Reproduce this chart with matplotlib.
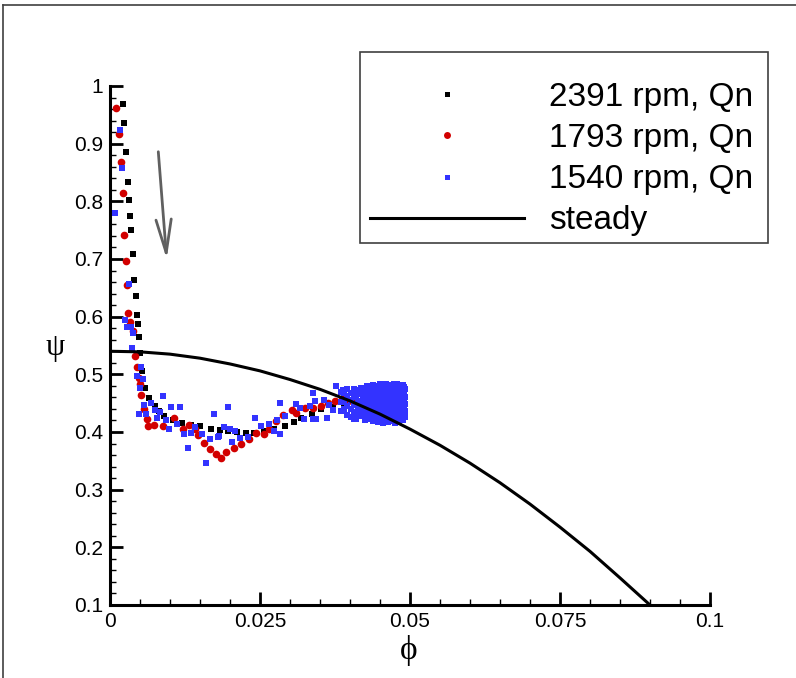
import matplotlib

matplotlib.use("Agg")
import matplotlib.pyplot as plt
from matplotlib.lines import Line2D
from matplotlib.patches import Rectangle

# ---- data ------------------------------------------------------------------
phi_2391 = [0.00211, 0.00233, 0.00267, 0.0030, 0.00317, 0.00333, 0.0035, 0.00383,
            0.0040, 0.00433, 0.0045, 0.00467, 0.00483, 0.0050, 0.00533, 0.00583,
            0.0065, 0.0075, 0.0082, 0.0090, 0.0105, 0.0120, 0.0135, 0.0150,
            0.0168, 0.0183, 0.0196, 0.0211, 0.0226, 0.0240, 0.0257, 0.0274,
            0.0292, 0.0306, 0.0318, 0.0337, 0.0352, 0.0372, 0.0390, 0.0410,
            0.0430, 0.0450]
psi_2391 = [0.969, 0.935, 0.886, 0.834, 0.803, 0.775, 0.750, 0.709,
            0.664, 0.636, 0.603, 0.587, 0.565, 0.537, 0.506, 0.477,
            0.459, 0.445, 0.436, 0.427, 0.420, 0.415, 0.413, 0.411,
            0.405, 0.403, 0.402, 0.400, 0.398, 0.398, 0.401, 0.405,
            0.411, 0.418, 0.424, 0.431, 0.440, 0.444, 0.448, 0.452,
            0.448, 0.446]

phi_1793 = [0.0010, 0.00155, 0.00189, 0.00222, 0.00239, 0.00272, 0.00289, 0.00305,
            0.00333, 0.00378, 0.00422, 0.00444, 0.00478, 0.00506, 0.00522, 0.00572,
            0.00611, 0.0064, 0.0074, 0.0088, 0.0107, 0.0121, 0.0132, 0.0142,
            0.0147, 0.0157, 0.0167, 0.0176, 0.0185, 0.0194, 0.0206, 0.0218,
            0.0231, 0.0244, 0.0256, 0.0265, 0.0277, 0.0289, 0.0304, 0.0310,
            0.0325, 0.0338, 0.0352, 0.0363, 0.0375, 0.0386, 0.0397, 0.0408,
            0.0419, 0.0422, 0.0430]
psi_1793 = [0.961, 0.916, 0.869, 0.814, 0.742, 0.697, 0.655, 0.607,
            0.590, 0.576, 0.531, 0.512, 0.494, 0.483, 0.464, 0.440,
            0.423, 0.410, 0.412, 0.410, 0.425, 0.405, 0.413, 0.405,
            0.394, 0.381, 0.371, 0.361, 0.355, 0.365, 0.373, 0.379,
            0.388, 0.399, 0.397, 0.406, 0.419, 0.429, 0.439, 0.433,
            0.442, 0.441, 0.445, 0.450, 0.454, 0.457, 0.453, 0.450,
            0.444, 0.438, 0.447]

# scattered blue points along the curve
phi_1540 = [0.00167, 0.0020, 0.00078, 0.0031, 0.0025, 0.0029, 0.00345, 0.00383,
            0.00367, 0.00517, 0.00456, 0.00544, 0.0050, 0.00572, 0.00478, 0.0060,
            0.00683, 0.0075, 0.00778, 0.00833, 0.00878, 0.00939, 0.00983, 0.0102,
            0.0117, 0.0112, 0.0123, 0.0135, 0.0142, 0.0130, 0.0154, 0.0160,
            0.0173, 0.0180, 0.0167, 0.0182, 0.0190, 0.0196, 0.0200, 0.0208,
            0.0203, 0.0217, 0.0230, 0.0241, 0.0251, 0.0265, 0.0273, 0.0278,
            0.0284, 0.0283, 0.0291, 0.0310, 0.0317, 0.0323, 0.0334, 0.0339,
            0.0342, 0.0339, 0.0344, 0.0361, 0.0372, 0.0377, 0.0389, 0.0406,
            0.0356, 0.0365]
psi_1540 = [0.924, 0.858, 0.780, 0.657, 0.594, 0.582, 0.582, 0.572,
            0.545, 0.513, 0.497, 0.492, 0.476, 0.447, 0.432, 0.432,
            0.450, 0.438, 0.425, 0.435, 0.462, 0.421, 0.405, 0.444,
            0.444, 0.414, 0.396, 0.398, 0.409, 0.373, 0.397, 0.347,
            0.432, 0.392, 0.388, 0.393, 0.409, 0.444, 0.405, 0.402,
            0.383, 0.390, 0.392, 0.425, 0.410, 0.414, 0.402, 0.420,
            0.397, 0.451, 0.428, 0.449, 0.441, 0.423, 0.445, 0.467,
            0.454, 0.422, 0.422, 0.424, 0.438, 0.479, 0.473, 0.422,
            0.455, 0.447]

# dense blue cloud near phi = 0.045: one column of psi values per phi
cloud_phi = [0.0385, 0.0390, 0.0395, 0.0402, 0.0406, 0.0410, 0.0414, 0.0418,
             0.0421, 0.0425, 0.0428, 0.0432, 0.0435, 0.0438, 0.0441, 0.0444,
             0.0447, 0.0450, 0.0452, 0.0455, 0.0458, 0.0460, 0.0463, 0.0465,
             0.0468, 0.0470, 0.0473, 0.0475, 0.0477, 0.0479, 0.0482, 0.0484,
             0.0486, 0.0488, 0.0490, 0.0491]
cloud_psi = [
    [0.470, 0.452, 0.437],
    [0.468, 0.454, 0.440],
    [0.475, 0.462, 0.445, 0.430],
    [0.468, 0.455, 0.440, 0.426],
    [0.474, 0.462, 0.448, 0.434],
    [0.472, 0.460, 0.447, 0.433, 0.422],
    [0.466, 0.453, 0.440, 0.427],
    [0.476, 0.466, 0.452, 0.438, 0.428],
    [0.474, 0.460, 0.446, 0.433],
    [0.470, 0.458, 0.444, 0.432, 0.421],
    [0.480, 0.467, 0.454, 0.440, 0.428],
    [0.478, 0.464, 0.450, 0.437, 0.425],
    [0.474, 0.461, 0.448, 0.434, 0.423],
    [0.482, 0.470, 0.456, 0.443, 0.430, 0.419],
    [0.480, 0.467, 0.455, 0.442, 0.428],
    [0.476, 0.462, 0.449, 0.436, 0.424],
    [0.478, 0.466, 0.452, 0.440, 0.427, 0.418],
    [0.484, 0.471, 0.458, 0.445, 0.432, 0.420],
    [0.476, 0.462, 0.448, 0.436, 0.424],
    [0.479, 0.466, 0.453, 0.440, 0.427, 0.416],
    [0.480, 0.465, 0.451, 0.437, 0.425],
    [0.483, 0.470, 0.457, 0.444, 0.431, 0.421],
    [0.478, 0.467, 0.454, 0.441, 0.428, 0.418],
    [0.476, 0.463, 0.450, 0.437, 0.425],
    [0.480, 0.466, 0.452, 0.439, 0.425],
    [0.482, 0.469, 0.456, 0.443, 0.430, 0.419],
    [0.484, 0.472, 0.459, 0.446, 0.433, 0.421],
    [0.478, 0.465, 0.452, 0.439, 0.415],
    [0.480, 0.468, 0.455, 0.442, 0.430],
    [0.484, 0.471, 0.458, 0.445, 0.433, 0.421],
    [0.478, 0.466, 0.452, 0.440, 0.427, 0.417],
    [0.476, 0.463, 0.450, 0.437, 0.425],
    [0.482, 0.472, 0.459, 0.446, 0.434, 0.423],
    [0.481, 0.468, 0.455, 0.442, 0.430, 0.420],
    [0.478, 0.465, 0.452, 0.440, 0.428],
    [0.474, 0.461, 0.448, 0.436, 0.426],
]

phi_steady = [0.0, 0.005, 0.010, 0.015, 0.020, 0.025, 0.030, 0.035, 0.040, 0.045,
              0.050, 0.055, 0.060, 0.065, 0.070, 0.075, 0.080, 0.085, 0.090]
psi_steady = [0.540, 0.539, 0.535, 0.528, 0.518, 0.506, 0.491, 0.474, 0.454, 0.431,
              0.405, 0.377, 0.346, 0.312, 0.275, 0.235, 0.193, 0.147, 0.100]

labels = ["2391 rpm, Qn", "1793 rpm, Qn", "1540 rpm, Qn", "steady"]
x_ticks = [0.0, 0.025, 0.05, 0.075, 0.1]
x_ticklabels = ["0", "0.025", "0.05", "0.075", "0.1"]
y_ticks = [0.1, 0.2, 0.3, 0.4, 0.5, 0.6, 0.7, 0.8, 0.9, 1.0]
y_ticklabels = ["0.1", "0.2", "0.3", "0.4", "0.5", "0.6", "0.7", "0.8", "0.9", "1"]
arrow_from = (0.00805, 0.886)
arrow_to = (0.00945, 0.700)

BLACK = "#000000"
RED = "#d20000"
BLUE = "#3333ff"
SANS = ["Liberation Sans", "DejaVu Sans"]
SERIF = ["Liberation Serif", "DejaVu Serif"]


def main() -> None:
    plt.rcParams["font.family"] = SANS
    fig = plt.figure(figsize=(7.96, 6.78), dpi=100)
    ax = fig.add_axes([110 / 796, 73 / 678, 600 / 796, 519 / 678])

    blue_x = list(phi_1540)
    blue_y = list(psi_1540)
    for p, col in zip(cloud_phi, cloud_psi):
        blue_x += [p] * len(col)
        blue_y += col

    ax.plot(phi_2391, psi_2391, ls="none", marker="s", ms=4.3, mew=0, color=BLACK, zorder=3)
    ax.plot(phi_1793, psi_1793, ls="none", marker="o", ms=5.5, mew=0, color=RED, zorder=4)
    ax.plot(blue_x, blue_y, ls="none", marker="s", ms=5.0, mew=0, color=BLUE, zorder=5)
    ax.plot(phi_steady, psi_steady, color=BLACK, lw=2.2, zorder=6)

    ax.annotate("", xy=arrow_to, xytext=arrow_from,
                arrowprops=dict(arrowstyle="->,head_length=2.4,head_width=0.55",
                                color="#606060", lw=2.0, mutation_scale=10,
                                shrinkA=0, shrinkB=0))

    ax.set_xlim(0, 0.1)
    ax.set_ylim(0.1, 1.0)
    ax.set_xticks(x_ticks, x_ticklabels)
    ax.set_yticks(y_ticks, y_ticklabels)
    ax.set_xticks([i * 0.005 for i in range(21)], minor=True)
    ax.set_yticks([0.1 + i * 0.02 for i in range(46)], minor=True)
    ax.tick_params(which="major", direction="in", length=9.5, width=2.0,
                   labelsize=15, pad=5)
    ax.tick_params(which="minor", direction="in", length=4.5, width=1.0)
    for side in ("top", "right"):
        ax.spines[side].set_visible(False)
    for side in ("left", "bottom"):
        ax.spines[side].set_linewidth(2.2)

    fig.text(409 / 796, 1 - 650 / 678, "\u03d5", family=SERIF, fontsize=24,
             ha="center", va="center")
    fig.text(55 / 796, 1 - 347 / 678, "\u03c8", family=SERIF, fontsize=22,
             ha="center", va="center")

    # legend box drawn by hand, entries placed with a frameless legend
    fig.patches.append(Rectangle((360 / 796, 1 - 243 / 678), 408 / 796, 191 / 678,
                                 transform=fig.transFigure, fill=False,
                                 edgecolor="#404040", lw=1.2))
    handles = [
        Line2D([], [], ls="none", marker="s", ms=3.6, mew=0, color=BLACK),
        Line2D([], [], ls="none", marker="o", ms=5.0, mew=0, color=RED),
        Line2D([], [], ls="none", marker="s", ms=3.6, mew=0, color=BLUE),
        Line2D([], [], color=BLACK, lw=2.2),
    ]
    fig.legend(handles, labels, loc="upper left", bbox_to_anchor=(370 / 796, 1 - 82 / 678),
               frameon=False, fontsize=24, handlelength=4.62, handletextpad=0.74,
               labelspacing=0.305, borderpad=0.0, borderaxespad=0.0)

    # outer frame (only top and left edges are visible in the crop)
    fig.add_artist(Line2D([3 / 796, 1.0], [1 - 5 / 678, 1 - 5 / 678],
                          transform=fig.transFigure, color="#404040", lw=1.2))
    fig.add_artist(Line2D([3 / 796, 3 / 796], [0.0, 1 - 5 / 678],
                          transform=fig.transFigure, color="#404040", lw=1.2))

    fig.savefig("out.png", dpi=100)
    plt.close(fig)


if __name__ == "__main__":
    main()
